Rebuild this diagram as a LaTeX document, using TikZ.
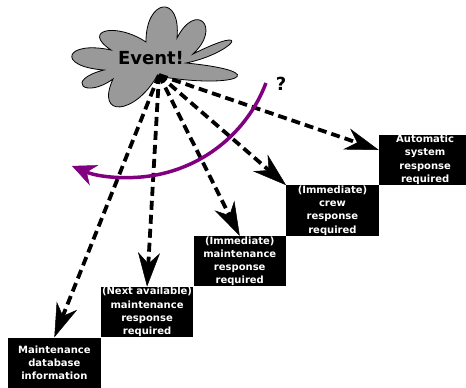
\documentclass[tikz,border=0pt]{standalone}
\usepackage{fontspec}
\setmainfont{DejaVu Sans}
\usetikzlibrary{arrows.meta}
\definecolor{cloudgray}{RGB}{153,153,153}
\definecolor{arcpurple}{RGB}{128,0,128}

\begin{document}
\begin{tikzpicture}[x=1pt, y=1pt,
        stepbox/.style={fill=black, text=white, minimum width=92.3pt, minimum height=50.3pt, inner sep=0pt, align=center, font=\bfseries\fontsize{10}{13.3}\selectfont},
        dasharrow/.style={line width=3.8pt, dash pattern=on 9pt off 5pt, -{Stealth[length=34pt, width=22pt, inset=11pt, line width=0.5pt]}},
        turnarrow/.style={line width=3.5pt, arcpurple, -{Stealth[length=24pt, width=22pt, inset=8pt, line width=0.5pt]}}]
        \useasboundingbox (0,0) rectangle (466,-388);

        % The cloud
        \draw[fill=cloudgray, line width=0.8pt] (157,-76)
            .. controls (134.9,-114.9) and (95.1,-118.5) .. (113,-79)
            .. controls (84.4,-99.7) and (64.6,-79.9) .. (104,-70)
            .. controls (55.6,-66.5) and (64.8,-40.1) .. (111,-50)
            .. controls (81,-30) and (116,-22) .. (146,-42)
            .. controls (145.7,1.7) and (181.3,6.3) .. (177,-38)
            .. controls (196,-1) and (222,-27) .. (193,-54)
            .. controls (257.1,-22) and (232.5,-53.6) .. (186,-63)
            .. controls (276.3,-71.8) and (236.1,-89.8) .. cycle;
        \node[font=\bfseries\fontsize{18}{20}\selectfont] (event) at (151,-58) {Event!};
        \coordinate (src) at (159,-75);

        % Steps
        \node[stepbox, anchor=south west] (b1) at (8,-388) {Maintenance\\database\\information};
        \node[stepbox, anchor=south west] (b2) at (b1.north east) {(Next available)\\maintenance\\response\\required};
        \node[stepbox, anchor=south west] (b3) at (b2.north east) {(Immediate)\\maintenance\\response\\required};
        \node[stepbox, anchor=south west] (b4) at (b3.north east) {(Immediate)\\crew\\response\\required};
        \node[stepbox, anchor=south west] (b5) at (b4.north east) {Automatic\\system\\response\\required};

        % Dashed arrows
        \draw[dasharrow] (src) -- (b1.north);
        \draw[dasharrow] (src) -- (b2.north);
        \draw[dasharrow] (src) -- (b3.north);
        \draw[dasharrow] (src) -- (b4.north west);
        \draw[dasharrow] (src) -- (b5.168);

        % The turning arc
        \draw[turnarrow] (129,-31) ++(-20.8:146.5) arc[start angle=-20.8, end angle=-112.9, radius=146.5];
        \node[font=\bfseries\fontsize{18}{20}\selectfont] (query) at (281,-84) {?};
    \end{tikzpicture}
\end{document}
